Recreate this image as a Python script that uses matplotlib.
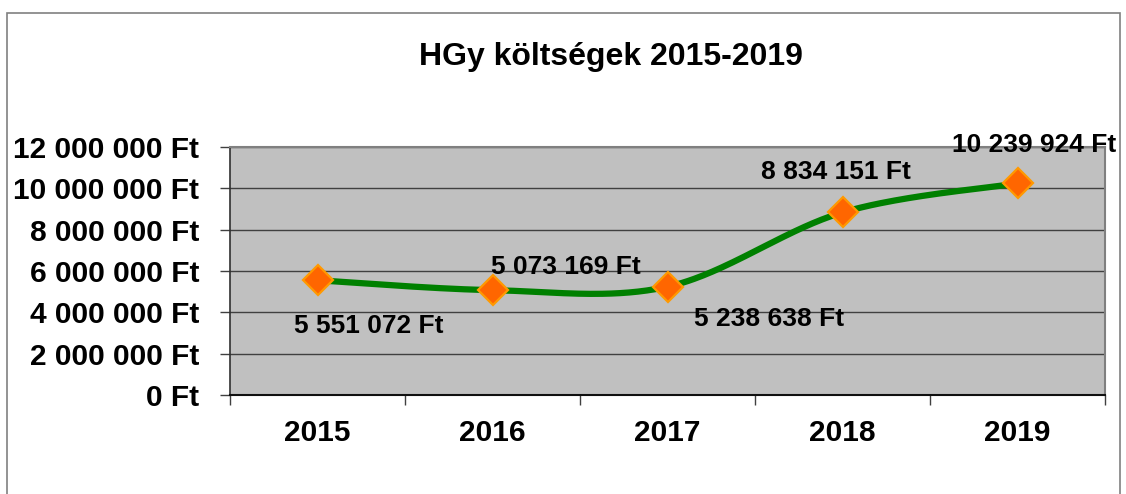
import numpy as np
import matplotlib
matplotlib.use("Agg")
import matplotlib.pyplot as plt
from matplotlib.ticker import FuncFormatter, FixedLocator
from matplotlib.patches import Rectangle

plt.rcParams['font.family'] = ['Liberation Sans', 'DejaVu Sans']

title = "HGy költségek 2015-2019"
years = ["2015", "2016", "2017", "2018", "2019"]
costs = [5551072, 5073169, 5238638, 8834151, 10239924]
y_ticks = [0, 2000000, 4000000, 6000000, 8000000, 10000000, 12000000]
# label offsets in pixels relative to each point (styling)
label_offsets = [(51, -46), (73, 23), (102, -32), (-7, 40), (17, 38)]


def ft(v, pos=None):
    return f"{v:,.0f}".replace(",", " ") + " Ft"


def smooth(xs, ys, n=60):
    xs = np.asarray(xs, float)
    ys = np.asarray(ys, float)
    P = np.column_stack([xs, ys])
    Pext = np.vstack([P[0], P, P[-1]])
    out = []
    t = np.linspace(0, 1, n)[:, None]
    for i in range(len(P) - 1):
        p0 = Pext[i + 1]
        p3 = Pext[i + 2]
        c1 = p0 + (Pext[i + 2] - Pext[i]) / 6.0
        c2 = p3 - (Pext[i + 3] - Pext[i + 1]) / 6.0
        seg = ((1 - t) ** 3) * p0 + 3 * ((1 - t) ** 2) * t * c1 + 3 * (1 - t) * t ** 2 * c2 + t ** 3 * p3
        out.append(seg if i == 0 else seg[1:])
    out = np.vstack(out)
    return out[:, 0], out[:, 1]


W, H = 1126, 494
fig = plt.figure(figsize=(W / 100, H / 100), dpi=100)
fig.patch.set_facecolor("white")

# outer chart border
fig.patches.append(Rectangle((7 / W, -0.05), (1120 - 7) / W, 1 - 13 / H + 0.05,
                             transform=fig.transFigure, fill=False,
                             edgecolor="#808080", linewidth=1.2))

ax = fig.add_axes([230 / W, 1 - 395 / H, (1105 - 230) / W, (395 - 147) / H])
ax.set_facecolor("#C0C0C0")

x = np.arange(len(years))
sx, sy = smooth(x, costs)
ax.plot(sx, sy, color="#008000", linewidth=4.5, solid_capstyle="round", zorder=3)
ax.plot(x, costs, linestyle="none", marker="D", markersize=15,
        markerfacecolor="#FF6600", markeredgecolor="#FF9900", markeredgewidth=1.6, zorder=4)

for xi, v, (dx, dy) in zip(x, costs, label_offsets):
    ax.annotate(ft(v), (xi, v), xytext=(dx, dy), textcoords="offset pixels",
                ha="center", va="center", fontsize=19, fontweight="bold",
                color="black", zorder=5, annotation_clip=False)

ax.set_xlim(-0.5, len(years) - 0.5)
ax.set_ylim(0, 12000000)

ax.yaxis.set_major_locator(FixedLocator(y_ticks))
ax.yaxis.set_major_formatter(FuncFormatter(ft))
ax.grid(axis="y", color="#404040", linewidth=1.0, zorder=1)
ax.set_axisbelow(True)

ax.set_xticks(x)
ax.set_xticklabels(years)
ax.set_xticks(np.arange(-0.5, len(years)), minor=True)
ax.tick_params(axis="x", which="major", length=0, pad=17, labelsize=21.5)
ax.tick_params(axis="x", which="minor", length=7, width=1, color="#404040")
ax.tick_params(axis="y", which="major", length=7, width=1, color="#404040", pad=15, labelsize=21.5)
for lbl in ax.get_xticklabels() + ax.get_yticklabels():
    lbl.set_fontweight("bold")

ax.spines["top"].set_color("#808080")
ax.spines["right"].set_color("#808080")
ax.spines["top"].set_linewidth(1.5)
ax.spines["right"].set_linewidth(1.5)
ax.spines["left"].set_color("#303030")
ax.spines["bottom"].set_color("#101010")
ax.spines["left"].set_linewidth(1.2)
ax.spines["bottom"].set_linewidth(1.5)

fig.text(611 / W, 1 - 57 / H, title, ha="center", va="center",
         fontsize=23, fontweight="bold")

fig.savefig("out.png", dpi=100)
